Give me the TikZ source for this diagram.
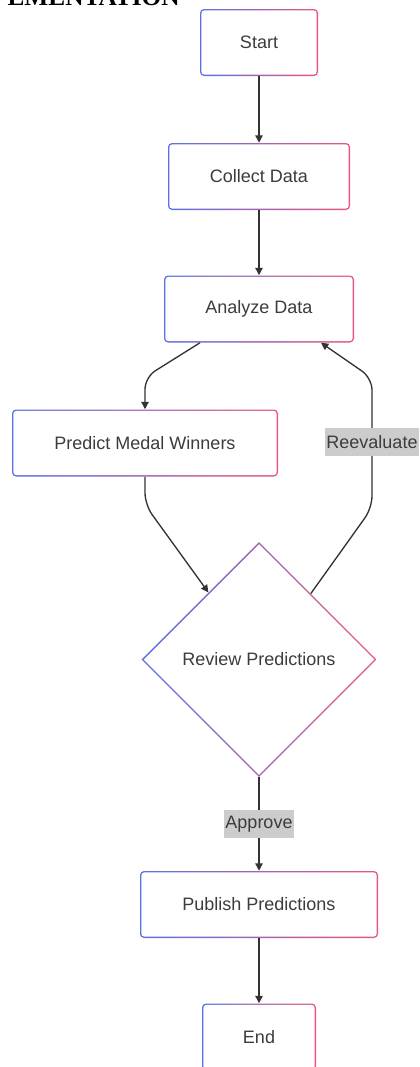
\documentclass[tikz,border=0pt]{standalone}
\usepackage{fontspec}
\setmainfont{Liberation Sans}
\newfontfamily\titlefont{Liberation Serif}
\usetikzlibrary{shapes.geometric,arrows.meta,calc}
\definecolor{gblue}{HTML}{5B72E6}
\definecolor{gred}{HTML}{E8577E}
\definecolor{txt}{HTML}{3C3C3C}
\definecolor{edgec}{HTML}{333333}
\definecolor{lblc}{HTML}{CCCCCC}
\tikzset{
  base/.style={text=txt, font=\fontsize{13.5}{16}\selectfont},
  gbox/.style={base, rectangle, rounded corners=3pt, minimum height=50.25pt, inner sep=0pt,
    path picture={
      \shade[left color=gblue, right color=gred] (path picture bounding box.south west) rectangle (path picture bounding box.north east);
      \fill[white, rounded corners=2pt] ([shift={(1.1pt,1.1pt)}]path picture bounding box.south west) rectangle ([shift={(-1.1pt,-1.1pt)}]path picture bounding box.north east);
    }},
  gdiam/.style={base, diamond, aspect=1, minimum width=176.25pt, minimum height=176.25pt, inner sep=0pt,
    path picture={
      \shade[left color=gblue, right color=gred] (path picture bounding box.south west) rectangle (path picture bounding box.north east);
      \fill[white] ([yshift=-1.6pt]path picture bounding box.north) -- ([xshift=-1.6pt]path picture bounding box.east) -- ([yshift=1.6pt]path picture bounding box.south) -- ([xshift=1.6pt]path picture bounding box.west) -- cycle;
    }},
  arr/.style={draw=edgec, line width=1pt, -{Triangle[length=5.5pt,width=5.5pt]}},
  lbl/.style={base, fill=lblc, inner xsep=1pt, inner ysep=0pt, minimum height=20.5pt}
}
\begin{document}
\begin{tikzpicture}[x=0.75pt,y=-0.75pt]
\useasboundingbox (0,0) rectangle (419,1067);
\clip (0,0) rectangle (419,1067);
\node[anchor=base east, inner sep=0pt, font=\titlefont\bfseries\fontsize{19}{20}\selectfont] (title) at (180,5.5) {EMENTATION};

\node[gbox, minimum width=88.5pt] (st) at (259,42.5) {Start};
\node[gbox, minimum width=136.5pt] (cd) at (259,176.5) {Collect Data};
\node[gbox, minimum width=142.5pt] (an) at (259,309) {Analyze Data};
\node[gbox, minimum width=199.5pt] (pr) at (145,443) {Predict Medal Winners};
\node[gdiam] (rv) at (259,659.5) {Review Predictions};
\node[gbox, minimum width=178.5pt] (pb) at (259,904.5) {Publish Predictions};
\node[gbox, minimum width=85.5pt] (en) at (259,1037) {End};

\draw[arr] (st.south) -- (cd.north);
\draw[arr] (cd.south) -- (an.north);
\draw[arr, rounded corners=9pt] ([xshift=-44.25pt]an.south) -- ([yshift=24pt]pr.north) -- (pr.north);
\draw[arr, rounded corners=9pt] (pr.south) -- ([yshift=-21pt]pr.south) -- ($(rv.north)!0.43!(rv.west)$);
\draw[arr, rounded corners=9pt] ($(rv.north)!0.44!(rv.east)$) -- (372,508) -- (372,378) -- ([xshift=46.5pt]an.south);
\node[lbl] (re) at (372,442) {Reevaluate};
\draw[arr] (rv.south) -- node[lbl] (ap) {Approve} (pb.north);
\draw[arr] (pb.south) -- (en.north);
\end{tikzpicture}
\end{document}
